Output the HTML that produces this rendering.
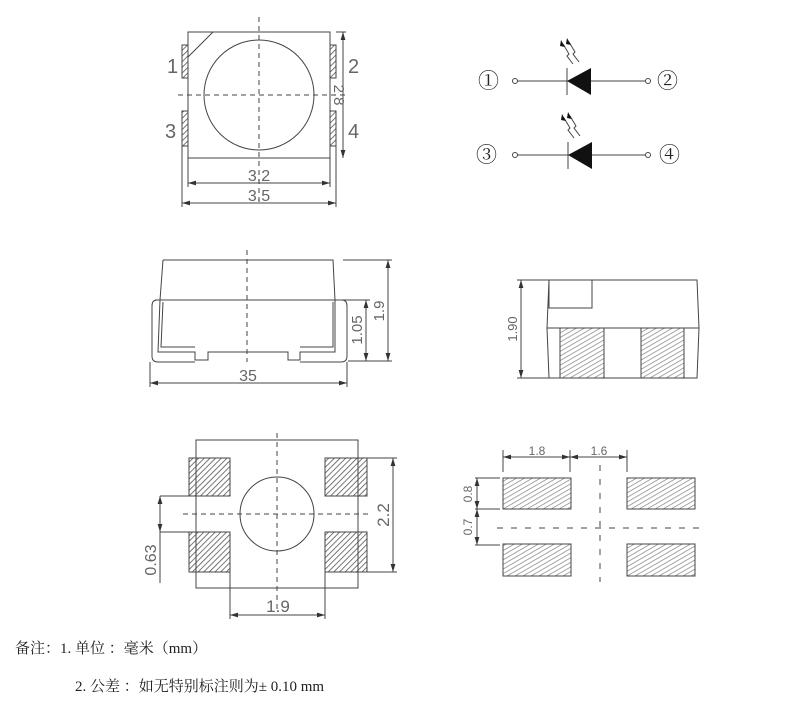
<!DOCTYPE html>
<html><head><meta charset="utf-8"><style>
html,body{margin:0;padding:0;background:#fff;width:800px;height:706px;overflow:hidden}
svg{display:block}
.t{font-family:"Liberation Sans",sans-serif;fill:#666}
.c{font-family:"Liberation Serif","Noto Serif CJK SC",serif;fill:#222;font-size:15px}
</style></head><body>
<svg width="800" height="706" viewBox="0 0 800 706" xmlns="http://www.w3.org/2000/svg">
<defs>
<pattern id="h" width="4" height="4" patternUnits="userSpaceOnUse" patternTransform="rotate(45)">
<rect width="4" height="4" fill="#fff"/><line x1="0" y1="0" x2="0" y2="4" stroke="#555" stroke-width="1.6"/></pattern>
<pattern id="h2" width="4" height="4" patternUnits="userSpaceOnUse" patternTransform="rotate(60)">
<rect width="4" height="4" fill="#fff"/><line x1="0" y1="0" x2="0" y2="4" stroke="#777" stroke-width="1.3"/></pattern>
<marker id="a" viewBox="0 0 10 6" refX="10" refY="3" markerWidth="8" markerHeight="5" orient="auto-start-reverse"><path d="M0,0 L10,3 L0,6z" fill="#333"/></marker>
</defs>
<g fill="none" stroke="#444" stroke-width="1">
<rect x="188" y="32" width="142" height="126"/>
<line x1="213" y1="32" x2="188" y2="57"/>
<circle cx="259" cy="95" r="55"/>
<rect x="182" y="45" width="6" height="33" fill="url(#h)"/>
<rect x="182" y="111" width="6" height="35" fill="url(#h)"/>
<rect x="330" y="45" width="6" height="33" fill="url(#h)"/>
<rect x="330" y="111" width="6" height="35" fill="url(#h)"/>
<line x1="259" y1="17" x2="259" y2="205" stroke-dasharray="5,4"/>
<line x1="178" y1="95" x2="345" y2="95" stroke-dasharray="5,4"/>
<line x1="336" y1="32" x2="346" y2="32"/>
<line x1="343" y1="32" x2="343" y2="158" marker-start="url(#a)" marker-end="url(#a)"/>
<line x1="188" y1="146" x2="188" y2="187"/><line x1="330" y1="146" x2="330" y2="187"/>
<line x1="188" y1="183" x2="330" y2="183" marker-start="url(#a)" marker-end="url(#a)"/>
<line x1="182" y1="146" x2="182" y2="207"/><line x1="336" y1="146" x2="336" y2="207"/>
<line x1="182" y1="203" x2="336" y2="203" marker-start="url(#a)" marker-end="url(#a)"/>
<path d="M163,260 L333,260 L335,300 M163,260 L160,300"/>
<line x1="155" y1="300" x2="345" y2="300"/>
<path d="M160,300 L158,352 L195,352 L195,360 L208,360 L208,352 L288,352 L288,360 L300,360 L300,352 L335,352 L335,300"/>
<path d="M157,300 Q152,300 152,306 L152,356 Q152,362 158,362 L195,362 M300,362 L341,362 Q347,362 347,356 L347,306 Q347,300 342,300"/>
<path d="M163,302 L161,347 L195,347 M300,347 L333,347 L333,302"/>
<line x1="247" y1="250" x2="247" y2="362" stroke-dasharray="5,4"/>
<line x1="343" y1="260" x2="392" y2="260"/><line x1="343" y1="300" x2="370" y2="300"/><line x1="348" y1="361" x2="392" y2="361"/>
<line x1="388" y1="260" x2="388" y2="361" marker-start="url(#a)" marker-end="url(#a)"/>
<line x1="366" y1="300" x2="366" y2="361" marker-start="url(#a)" marker-end="url(#a)"/>
<line x1="150" y1="362" x2="150" y2="387"/><line x1="347" y1="362" x2="347" y2="387"/>
<line x1="150" y1="383" x2="347" y2="383" marker-start="url(#a)" marker-end="url(#a)"/>
<path d="M549,280 L697,280 L699,328 L697,378 L549,378 L547,328 Z"/>
<line x1="547" y1="328" x2="699" y2="328"/>
<rect x="549" y="280" width="43" height="28"/>
<rect x="560" y="328" width="44" height="50" fill="url(#h2)"/>
<rect x="641" y="328" width="43" height="50" fill="url(#h2)"/>
<line x1="517" y1="280" x2="549" y2="280"/><line x1="517" y1="378" x2="560" y2="378"/>
<line x1="521" y1="280" x2="521" y2="378" marker-start="url(#a)" marker-end="url(#a)"/>
<rect x="189" y="458" width="41" height="38" fill="url(#h)"/>
<rect x="189" y="532" width="41" height="40" fill="url(#h)"/>
<rect x="325" y="458" width="42" height="38" fill="url(#h)"/>
<rect x="325" y="532" width="42" height="40" fill="url(#h)"/>
<rect x="196" y="440" width="162" height="148"/>
<circle cx="277" cy="514" r="37"/>
<line x1="183" y1="514" x2="372" y2="514" stroke-dasharray="5,4"/>
<line x1="277" y1="433" x2="277" y2="612" stroke-dasharray="5,4"/>
<line x1="367" y1="458" x2="397" y2="458"/><line x1="367" y1="572" x2="397" y2="572"/>
<line x1="393" y1="458" x2="393" y2="572" marker-start="url(#a)" marker-end="url(#a)"/>
<line x1="160" y1="496" x2="196" y2="496"/><line x1="160" y1="532" x2="196" y2="532"/>
<line x1="160" y1="496" x2="160" y2="532" marker-start="url(#a)" marker-end="url(#a)"/>
<line x1="160" y1="532" x2="160" y2="583"/>
<line x1="230" y1="572" x2="230" y2="619"/><line x1="325" y1="572" x2="325" y2="619"/>
<line x1="230" y1="615" x2="325" y2="615" marker-start="url(#a)" marker-end="url(#a)"/>
<rect x="503" y="478" width="68" height="31" fill="url(#h2)"/>
<rect x="627" y="478" width="68" height="31" fill="url(#h2)"/>
<rect x="503" y="544" width="68" height="32" fill="url(#h2)"/>
<rect x="627" y="544" width="68" height="32" fill="url(#h2)"/>
<line x1="497" y1="528" x2="700" y2="528" stroke-dasharray="6,8"/>
<line x1="600" y1="465" x2="600" y2="582" stroke-dasharray="6,8"/>
<line x1="503" y1="450" x2="503" y2="472"/><line x1="570" y1="450" x2="570" y2="472"/><line x1="627" y1="450" x2="627" y2="472"/>
<line x1="503" y1="457" x2="570" y2="457" marker-start="url(#a)" marker-end="url(#a)"/>
<line x1="570" y1="457" x2="627" y2="457" marker-start="url(#a)" marker-end="url(#a)"/>
<line x1="475" y1="478" x2="500" y2="478"/><line x1="475" y1="509" x2="500" y2="509"/><line x1="475" y1="545" x2="500" y2="545"/>
<line x1="477" y1="478" x2="477" y2="509" marker-start="url(#a)" marker-end="url(#a)"/>
<line x1="477" y1="509" x2="477" y2="545" marker-start="url(#a)" marker-end="url(#a)"/>
<line x1="517" y1="81" x2="646" y2="81"/>
<circle cx="515" cy="81" r="2.5" fill="#fff"/><circle cx="648" cy="81" r="2.5" fill="#fff"/>
<line x1="567" y1="68" x2="567" y2="95"/>
<line x1="517" y1="155" x2="646" y2="155"/>
<circle cx="515" cy="155" r="2.5" fill="#fff"/><circle cx="648" cy="155" r="2.5" fill="#fff"/>
<line x1="568" y1="142" x2="568" y2="169"/>
<path d="M573,64 L567,56 L569,54 L563,44 M579,62 L573,54 L575,52 L569,42"/>
<path d="M574,138 L568,130 L570,128 L564,118 M580,136 L574,128 L576,126 L570,116"/>
</g>
<path d="M567,81 L591,68 L591,95 Z" fill="#111"/>
<path d="M568,155 L592,142 L592,169 Z" fill="#111"/>
<path d="M561,40 L565,47 L560,46Z M567,38 L571,45 L566,44Z M562,114 L566,121 L561,120Z M568,112 L572,119 L567,118Z" fill="#111"/>
<g class="t">
<text x="167" y="73" font-size="20">1</text><text x="348" y="73" font-size="20">2</text>
<text x="165" y="138" font-size="20">3</text><text x="348" y="138" font-size="20">4</text>
<text x="259" y="181" font-size="16" text-anchor="middle">3.2</text>
<text x="259" y="201" font-size="16" text-anchor="middle">3.5</text>
<text transform="translate(334,95) rotate(90)" font-size="15" text-anchor="middle">2.8</text>
<text x="248" y="381" font-size="16" text-anchor="middle">35</text>
<text transform="translate(384,311) rotate(-90)" font-size="15" text-anchor="middle">1.9</text>
<text transform="translate(362,330) rotate(-90)" font-size="15" text-anchor="middle">1.05</text>
<text transform="translate(517,329) rotate(-90)" font-size="13" text-anchor="middle">1.90</text>
<text transform="translate(389,515) rotate(-90)" font-size="17" text-anchor="middle">2.2</text>
<text transform="translate(156,560) rotate(-90)" font-size="16" text-anchor="middle">0.63</text>
<text x="278" y="612" font-size="17" text-anchor="middle">1.9</text>
<text x="537" y="455" font-size="12" text-anchor="middle">1.8</text>
<text x="599" y="455" font-size="12" text-anchor="middle">1.6</text>
<text transform="translate(472,494) rotate(-90)" font-size="12" text-anchor="middle">0.8</text>
<text transform="translate(472,527) rotate(-90)" font-size="12" text-anchor="middle">0.7</text>
</g>
<g class="c" style="font-size:21px">
<text x="478" y="88">①</text><text x="657" y="88">②</text>
<text x="476" y="162">③</text><text x="659" y="162">④</text>
</g>
<text class="c" x="15" y="653">备注：1. 单位 ：毫米（mm）</text>
<text class="c" x="75" y="691">2. 公差 ：如无特别标注则为± 0.10 mm</text>
</svg>
</body></html>
